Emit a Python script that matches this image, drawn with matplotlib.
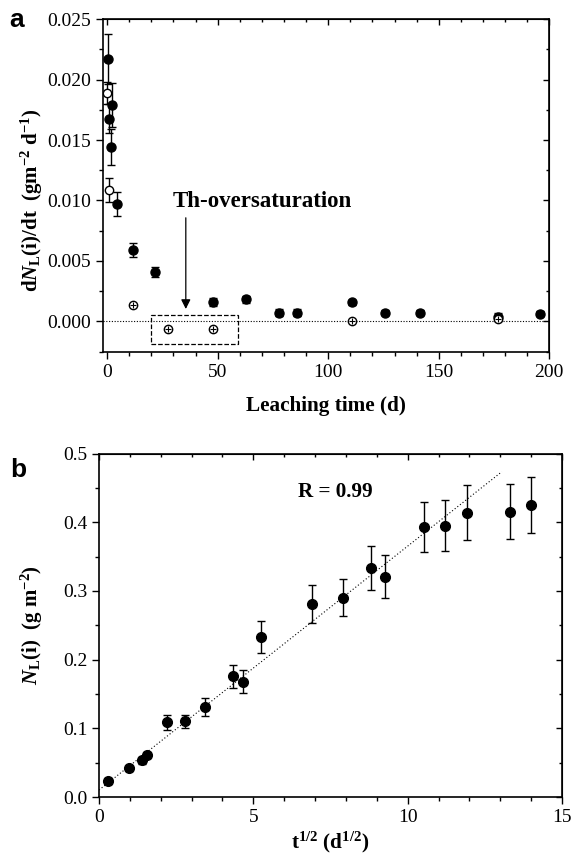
import matplotlib
matplotlib.use("Agg")
import matplotlib.pyplot as plt
from matplotlib.patches import Rectangle
from matplotlib.ticker import MultipleLocator, NullFormatter, FormatStrFormatter
import numpy as np

plt.rcParams['font.family'] = ['Liberation Serif', 'DejaVu Serif']
plt.rcParams['mathtext.fontset'] = 'custom'
plt.rcParams['mathtext.rm'] = 'Liberation Serif:bold'
plt.rcParams['mathtext.it'] = 'Liberation Serif:bold:italic'
plt.rcParams['mathtext.bf'] = 'Liberation Serif:bold'

# panel a: leaching rate vs time, filled circles
a_filled_t = [0.3, 0.8, 2.0, 1.7, 4.7, 11.6, 21.6, 47.7, 62.6, 77.7, 85.7, 110.9, 125.7, 141.6, 176.8, 195.8]
a_filled_rate = [0.0217, 0.01675, 0.0179, 0.0144, 0.0097, 0.0059, 0.0041, 0.0016, 0.00184, 0.00074,
                 0.00074, 0.00157, 0.00074, 0.00074, 0.00038, 0.00063]
a_filled_err = [0.0021, 0.0012, 0.0018, 0.0015, 0.0010, 0.0006, 0.0004, 0.0003, 0.0003, 0.0003,
                0.0003, 0.0002, 0.0002, 0.0002, 0.0003, 0.0002]

# panel a: open circles
a_open_t = [0.0, 0.8]
a_open_rate = [0.0189, 0.01085]
a_open_err = [0.0009, 0.0010]
a_open_small_t = [11.6, 27.6, 47.7, 110.9, 176.8]
a_open_small_rate = [0.00138, -0.0006, -0.0006, 0.0, 0.0002]

# oversaturation box (x range, y range)
box_t = [20, 59]
box_rate = [-0.00186, 0.00055]

# panel b: cumulative normalised loss vs sqrt(t)
b_sqrt_t = [0.30, 0.96, 1.39, 1.54, 2.20, 2.79, 3.42, 4.34, 4.65, 5.25, 6.90, 7.91, 8.82, 9.26,
            10.53, 11.20, 11.92, 13.30, 14.00]
b_nl = [0.0233, 0.0418, 0.0534, 0.0611, 0.1087, 0.110, 0.1315, 0.1756, 0.1678, 0.2327, 0.281,
        0.290, 0.3338, 0.3207, 0.393, 0.395, 0.4139, 0.4154, 0.4255]
b_err = [0.004, 0.004, 0.005, 0.005, 0.0105, 0.010, 0.013, 0.017, 0.017, 0.023, 0.027,
         0.027, 0.032, 0.031, 0.037, 0.037, 0.040, 0.040, 0.041]

# linear fit
fit_intercept = 0.0102
fit_slope = 0.0355
fit_range = [0.0, 13.05]

fig = plt.figure(figsize=(5.73, 8.57), dpi=100)


def style_axes(ax):
    ax.tick_params(which='both', direction='out', top=False, right=False, labelsize=14)
    ax.tick_params(which='major', length=5, width=1)
    ax.tick_params(which='minor', length=3, width=1)
    for s in ax.spines.values():
        s.set_linewidth(1.2)
    # mirrored ticks pointing inward, no labels
    sec_x = ax.secondary_xaxis('top')
    sec_x.xaxis.set_major_locator(ax.xaxis.get_major_locator())
    sec_x.xaxis.set_minor_locator(ax.xaxis.get_minor_locator())
    sec_x.xaxis.set_major_formatter(NullFormatter())
    sec_x.tick_params(which='major', direction='in', length=4, width=1)
    sec_x.tick_params(which='minor', direction='in', length=2.5, width=1)
    sec_y = ax.secondary_yaxis('right')
    sec_y.yaxis.set_major_locator(ax.yaxis.get_major_locator())
    sec_y.yaxis.set_minor_locator(ax.yaxis.get_minor_locator())
    sec_y.yaxis.set_major_formatter(NullFormatter())
    sec_y.tick_params(which='major', direction='in', length=4, width=1)
    sec_y.tick_params(which='minor', direction='in', length=2.5, width=1)


# ---------- panel a ----------
ax1 = fig.add_axes([0.1792, 0.5896, 0.7794, 0.3882])
ax1.set_xlim(-2, 200)
ax1.set_ylim(-0.0025, 0.025)
ax1.xaxis.set_major_locator(MultipleLocator(50))
ax1.xaxis.set_minor_locator(MultipleLocator(10))
ax1.yaxis.set_major_locator(MultipleLocator(0.005))
ax1.yaxis.set_minor_locator(MultipleLocator(0.0025))
ax1.yaxis.set_major_formatter(FormatStrFormatter('%.3f'))

ax1.axhline(0, color='black', lw=0.8, ls=(0, (1, 1.5)), zorder=1)
ax1.errorbar(a_filled_t, a_filled_rate, yerr=a_filled_err, fmt='o', color='black',
             ms=6.5, capsize=3, elinewidth=1, capthick=1, zorder=3)
ax1.errorbar(a_open_t, a_open_rate, yerr=a_open_err, fmt='o', color='black', mfc='white',
             ms=6, capsize=3, elinewidth=1, capthick=1, zorder=4)
ax1.plot(a_open_small_t, a_open_small_rate, 'o', color='black', mfc='white', ms=6, zorder=4)
ax1.plot(a_open_small_t, a_open_small_rate, '+', color='black', ms=5, mew=0.8, zorder=5)

ax1.add_patch(Rectangle((box_t[0], box_rate[0]), box_t[1] - box_t[0], box_rate[1] - box_rate[0],
                        fill=False, ls='--', lw=0.9, ec='black'))
ax1.annotate('', xy=(35.6, 0.0008), xytext=(35.6, 0.0088),
             arrowprops=dict(arrowstyle='-|>', color='black', lw=0.9, mutation_scale=14))
ax1.text(29.5, 0.0099, 'Th-oversaturation', fontsize=16.5, fontweight='bold', va='center', ha='left')

ax1.set_xlabel('Leaching time (d)', fontsize=15.3, fontweight='bold', labelpad=11)
ax1.set_ylabel(r'd$N_{\mathrm{L}}$(i)/dt  (gm$^{-2}$ d$^{-1}$)', fontsize=15, fontweight='bold')
ax1.yaxis.set_label_coords(-0.129, 0.456)
style_axes(ax1)
fig.text(0.017, 0.968, 'a', fontsize=19, fontweight='bold', family='Liberation Sans')

# ---------- panel b ----------
ax2 = fig.add_axes([0.1728, 0.070, 0.808, 0.4008])
ax2.set_xlim(0, 15)
ax2.set_ylim(0, 0.5)
ax2.xaxis.set_major_locator(MultipleLocator(5))
ax2.xaxis.set_minor_locator(MultipleLocator(1))
ax2.yaxis.set_major_locator(MultipleLocator(0.1))
ax2.yaxis.set_minor_locator(MultipleLocator(0.05))
ax2.yaxis.set_major_formatter(FormatStrFormatter('%.1f'))

fit_x = np.array(fit_range)
ax2.plot(fit_x, fit_intercept + fit_slope * fit_x, color='black', lw=0.8, ls=(0, (1, 2)), zorder=1)
ax2.errorbar(b_sqrt_t, b_nl, yerr=b_err, fmt='o', color='black', ms=7, capsize=3,
             elinewidth=1, capthick=1, zorder=3)
ax2.text(6.45, 0.4445, 'R = 0.99', fontsize=15.2, fontweight='bold', va='center', ha='left')

ax2.set_xlabel(r't$^{1/2}$ (d$^{1/2}$)', fontsize=15.2, fontweight='bold', labelpad=3)
ax2.set_ylabel(r'$N_{\mathrm{L}}$(i)  (g m$^{-2}$)', fontsize=15, fontweight='bold')
ax2.yaxis.set_label_coords(-0.116, 0.5)
style_axes(ax2)
fig.text(0.017, 0.443, 'b', fontsize=19, fontweight='bold', family='Liberation Sans')

fig.savefig('out.png', dpi=100)
